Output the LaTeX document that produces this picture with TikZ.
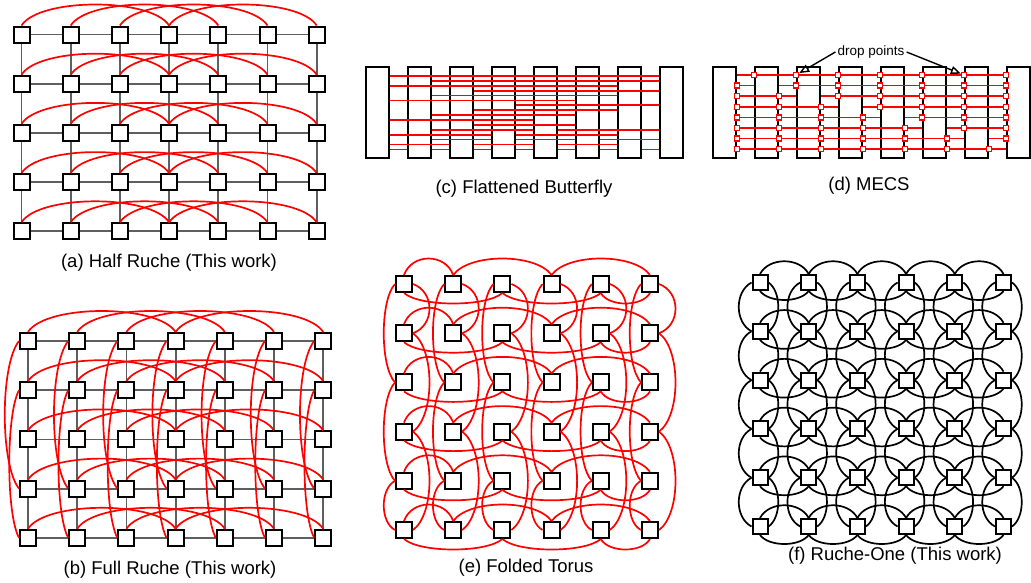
\documentclass[tikz,border=0pt]{standalone}
\usepackage{fontspec}
\setmainfont{Liberation Sans}
\usetikzlibrary{arrows.meta}
\definecolor{meshgray}{RGB}{95,95,95}
\tikzset{
  router/.style={draw, line width=2pt, fill=white, minimum size=16pt, inner sep=0pt},
  smallrouter/.style={router, minimum size=15pt},
  bigrouter/.style={draw, line width=2pt, fill=white, minimum width=23pt, minimum height=91pt, inner sep=0pt},
  meshlink/.style={meshgray, line width=1.8pt},
  ruchelink/.style={red, line width=1.7pt},
  onelink/.style={black, line width=1.7pt},
  droppt/.style={draw=red, line width=1.4pt, fill=white, minimum size=5pt, inner sep=0pt},
  droparrow/.style={-{Triangle[open, length=10pt, width=8pt]}, line width=1.4pt},
  caption/.style={font=\fontsize{18.5pt}{22pt}\selectfont, inner sep=0pt}
}

\begin{document}
\begin{tikzpicture}[x=1pt, y=-1pt]
\useasboundingbox (0,0) rectangle (1031,582);

% (a) half ruche and (b) full ruche: 7x5 mesh with row links
\foreach \pn/\ox/\oy in {a/21.5/34.5, b/28/341}{
  \foreach \i in {0,...,6}{
    \foreach \j in {0,...,4}{
      \node[router] (\pn-\i-\j) at ({\ox+49.2*\i},{\oy+49.2*\j}) {};
    }
  }
  \foreach \i in {0,...,6}{
    \foreach \j in {0,...,4}{
      \pgfmathtruncatemacro\nx{\i+1}
      \pgfmathtruncatemacro\ny{\j+1}
      \ifnum\i<6 \draw[meshlink] (\pn-\i-\j) -- (\pn-\nx-\j); \fi
      \ifnum\j<4 \draw[meshlink] (\pn-\i-\j) -- (\pn-\i-\ny); \fi
    }
  }
  \foreach \i in {0,...,3}{
    \foreach \j in {0,...,4}{
      \pgfmathtruncatemacro\far{\i+3}
      \draw[ruchelink] (\pn-\i-\j.north) .. controls +(18,-28) and +(-18,-28) .. (\pn-\far-\j.north);
    }
  }
}
% column links of the full ruche
\foreach \i in {0,...,6}{
  \draw[ruchelink] (b-\i-0.west) .. controls +(-19,24) and +(-19,-24) .. (b-\i-3.west);
  \draw[ruchelink] (b-\i-1.west) .. controls +(-13,24) and +(-13,-24) .. (b-\i-4.west);
}

% (c) flattened butterfly
\foreach \i in {0,...,7}
  \node[bigrouter] (c-\i) at ({377.5+42*\i},112.5) {};
\foreach \lv/\src/\dst in {1/0/7, 2/1/7, 3/0/6, 4/2/7, 5/1/6, 6/0/5, 7/3/7, 8/2/6, 9/1/5, 10/0/4, 11/2/5, 12/1/4, 12/4/7, 13/0/3, 13/3/6, 14/1/3, 14/3/5, 14/5/7, 15/0/2, 15/2/4, 15/4/6, 16/0/1, 16/1/2, 16/2/3, 16/3/4, 16/4/5, 16/5/6, 16/6/7}{
  \pgfmathsetmacro\yy{76+4.89*(\lv-1)}
  \draw[ruchelink] (c-\src.east |- 0,\yy) -- (c-\dst.west |- 0,\yy);
}

% (d) MECS
\foreach \i in {0,...,7}
  \node[bigrouter] (d-\i) at ({724.5+42*\i},112.5) {};
\foreach \r in {0,...,7}{
  \pgfmathsetmacro\yy{75+10.6*\r}
  \ifnum\r>0
    \draw[ruchelink] (d-\r.west |- 0,\yy) -- (d-0.east |- 0,\yy);
  \fi
  \ifnum\r<7
    \draw[ruchelink] (d-\r.east |- 0,\yy) -- (d-7.west |- 0,\yy);
  \fi
  \foreach \j in {0,...,7}{
    \ifnum\j<\r
      \node[droppt] (p-\r-\j) at (d-\j.east |- 0,\yy) {};
    \fi
    \ifnum\j>\r
      \node[droppt] (p-\r-\j) at (d-\j.west |- 0,\yy) {};
    \fi
  }
}
\node[font=\fontsize{13.5pt}{16pt}\selectfont, inner sep=2pt] (dptxt) at (871,52) {drop points};
\draw[droparrow] (dptxt.west) -- (p-0-2);
\draw[droparrow] (dptxt.east) -- (p-0-6);

% (e) folded torus
\foreach \i in {0,...,5}
  \foreach \j in {0,...,5}
    \node[router] (e-\i-\j) at ({404+49.2*\i},{284+49.2*\j}) {};
\foreach \j in {0,...,5}{
  \foreach \p/\q in {0/1, 1/3, 3/5}{
    \pgfmathsetmacro\bend{8*(\q-\p)}
    \draw[ruchelink] (e-\p-\j.north) .. controls +(\bend,-22) and +(-\bend,-22) .. (e-\q-\j.north);
    \draw[ruchelink] (e-\j-\p.east) .. controls +(22,\bend) and +(22,-\bend) .. (e-\j-\q.east);
  }
  \foreach \p/\q in {0/2, 2/4, 4/5}{
    \pgfmathsetmacro\bend{8*(\q-\p)}
    \draw[ruchelink] (e-\p-\j.south) .. controls +(\bend,14) and +(-\bend,14) .. (e-\q-\j.south);
    \draw[ruchelink] (e-\j-\p.west) .. controls +(-15,\bend) and +(-15,-\bend) .. (e-\j-\q.west);
  }
}

% (f) ruche-one
\foreach \i in {0,...,5}
  \foreach \j in {0,...,5}
    \node[smallrouter] (f-\i-\j) at ({760+48.7*\i},{282.5+48.8*\j}) {};
\foreach \i in {0,...,4}{
  \foreach \j in {0,...,5}{
    \pgfmathtruncatemacro\nx{\i+1}
    \draw[onelink] (f-\i-\j.north) .. controls +(9,-17) and +(-9,-17) .. (f-\nx-\j.north);
    \draw[onelink] (f-\i-\j.south) .. controls +(9,12) and +(-9,12) .. (f-\nx-\j.south);
    \draw[onelink] (f-\j-\i.west) .. controls +(-17,9) and +(-17,-9) .. (f-\j-\nx.west);
    \draw[onelink] (f-\j-\i.east) .. controls +(13,9) and +(13,-9) .. (f-\j-\nx.east);
  }
}

% captions
\node[caption] (cap-a) at (169,263) {(a) Half Ruche (This work)};
\node[caption] (cap-b) at (170,570) {(b) Full Ruche (This work)};
\node[caption] (cap-c) at (524,189) {(c) Flattened Butterfly};
\node[caption] (cap-d) at (869,186) {(d) MECS};
\node[caption] (cap-e) at (526,568) {(e) Folded Torus};
\node[caption] (cap-f) at (895,556) {(f) Ruche-One (This work)};
\end{tikzpicture}
\end{document}
